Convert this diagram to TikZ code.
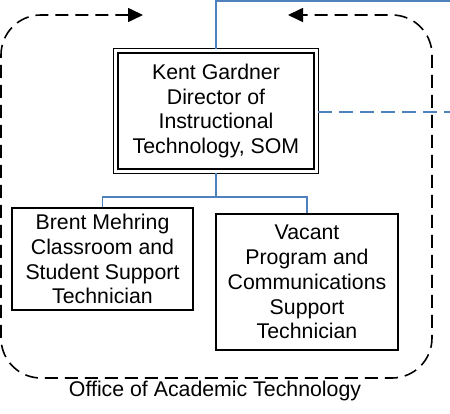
\documentclass[tikz,border=0pt]{standalone}
\usepackage{fontspec}
\setmainfont{Liberation Sans}
\usetikzlibrary{arrows.meta}
\definecolor{lineblue}{RGB}{79,129,189}
\begin{document}
\begin{tikzpicture}[x=1pt,y=-1pt,
  every node/.style={font=\fontsize{21.3}{24.8}\selectfont},
  box/.style={draw=black,line width=1.4pt,inner sep=0pt,align=center,fill=white},
  bluesolid/.style={draw=lineblue,line width=1.5pt},
  bluedash/.style={draw=lineblue,line width=1.5pt,dash pattern=on 14pt off 7pt},
  group/.style={draw=black,line width=1.6pt,dash pattern=on 13pt off 7pt,rounded corners=40pt,
    arrows={Triangle[length=15pt,width=14pt]-Triangle[length=15pt,width=14pt]}}]
\useasboundingbox (0,0) rectangle (450,414);
% group outline
\coordinate (gl) at (143,15);
\coordinate (gr) at (288,15);
\draw[group] (gl) -- (1,15) -- (1,378) -- (432,378) -- (432,15) -- (gr);
\node (lbl) at (215,391) {Office of Academic Technology};
% main box
\node[box,minimum width=196pt,minimum height=116pt,line width=1.2pt] (main) at (216,111)
  {Kent Gardner\\Director of\\Instructional\\Technology, SOM};
\draw[line width=1.6pt] ([shift={(-4pt,4pt)}]main.north west) rectangle ([shift={(4pt,-4pt)}]main.south east);
\coordinate (mtop) at (216,49);
\coordinate (mbot) at (216,173);
\coordinate (mright) at (318,112);
\coordinate (topend) at (451,1);
\coordinate (dashend) at (451,112);
% subordinate boxes
\node[box,minimum width=181pt,minimum height=102pt] (brent) at (102.5,259)
  {Brent Mehring\\Classroom and\\Student Support\\Technician};
\node[box,minimum width=182pt,minimum height=136pt] (vacant) at (307,282)
  {Vacant\\Program and\\Communications\\Support\\Technician};
% connectors
\draw[bluesolid] (mtop) |- (topend);
\draw[bluedash] (mright) -- (dashend);
\coordinate (junc) at (216,197);
\draw[bluesolid] (mbot) -- (junc);
\draw[bluesolid] (junc) -| (brent.north);
\draw[bluesolid] (junc) -| (vacant.north);
\end{tikzpicture}
\end{document}
